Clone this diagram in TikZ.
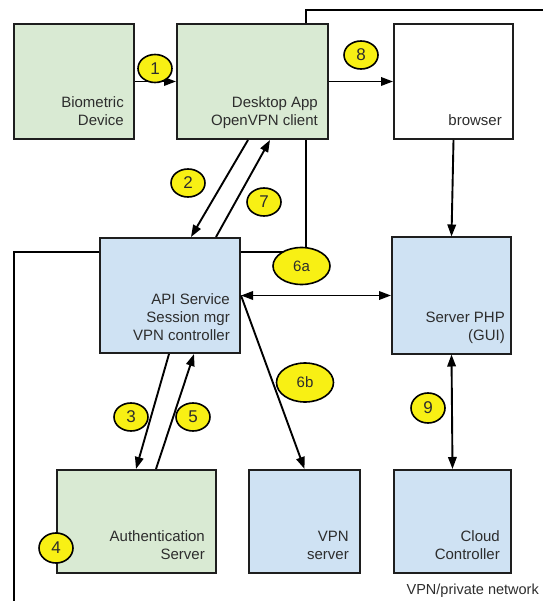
\documentclass[tikz,border=0pt]{standalone}
\usepackage{fontspec}
\setmainfont{Liberation Sans}
\usetikzlibrary{arrows.meta,shapes.geometric}
\pgfdeclarelayer{background}
\pgfsetlayers{background,main}
\definecolor{boxgreen}{RGB}{217,234,211}
\definecolor{boxblue}{RGB}{207,226,243}
\definecolor{stepyellow}{RGB}{248,240,20}
\definecolor{inkgray}{RGB}{45,45,45}
\definecolor{edgegray}{RGB}{30,30,30}

\begin{document}
\begin{tikzpicture}[x=1pt,y=-1pt,
  block/.style={draw=edgegray, line width=2pt, inner sep=0pt, rectangle},
  greenblock/.style={block, fill=boxgreen},
  blueblock/.style={block, fill=boxblue},
  whiteblock/.style={block, fill=white},
  caption/.style={anchor=base east, inner sep=0pt, text=inkgray,
    font=\fontsize{15}{18}\selectfont},
  stepmark/.style={ellipse, draw=black, line width=1.6pt, fill=stepyellow,
    inner sep=0pt, minimum width=34pt, minimum height=28pt,
    font=\fontsize{17}{17}\selectfont, text=inkgray},
  substep/.style={stepmark, minimum width=57pt, minimum height=37pt,
    font=\fontsize{15}{15}\selectfont},
  tip/.tip={Triangle[length=12pt,width=8.5pt]},
  flow/.style={line width=1.9pt, -tip},
  bothflow/.style={line width=1.9pt, tip-tip},
  wire/.style={line width=1.9pt}
]
\useasboundingbox (0,0) rectangle (543,601);

% components
\node[greenblock, minimum width=120pt, minimum height=115pt] (bio)   at (74,81.5)    {};
\node[greenblock, minimum width=151pt, minimum height=115pt] (desk)  at (252.5,81.5) {};
\node[whiteblock, minimum width=119pt, minimum height=115pt] (brow)  at (453.5,81.5) {};
\node[blueblock,  minimum width=140pt, minimum height=115pt] (api)   at (170,295.5)  {};
\node[blueblock,  minimum width=119pt, minimum height=116pt] (php)   at (451.5,295.5){};
\node[greenblock, minimum width=159pt, minimum height=103pt] (auth)  at (136.5,521.5){};
\node[blueblock,  minimum width=111pt, minimum height=103pt] (vpn)   at (304.5,521.5){};
\node[blueblock,  minimum width=117pt, minimum height=103pt] (cloud) at (452.5,521.5){};

% captions, set flush right near the bottom of each box
\node[caption] (biotxt)   at ([xshift=-11pt,yshift=14pt]bio.south east)
  {\begin{tabular}[b]{@{}r@{}}Biometric\\Device\end{tabular}};
\node[caption] (desktxt)  at ([xshift=-11pt,yshift=14pt]desk.south east)
  {\begin{tabular}[b]{@{}r@{}}Desktop App\\OpenVPN client\end{tabular}};
\node[caption] (browtxt)  at ([xshift=-12pt,yshift=14pt]brow.south east) {browser};
\node[caption] (apitxt)   at ([xshift=-11pt,yshift=14pt]api.south east)
  {\begin{tabular}[b]{@{}r@{}}API Service\\Session mgr\\VPN controller\end{tabular}};
\node[caption] (phptxt)   at ([xshift=-7pt,yshift=14pt]php.south east)
  {\begin{tabular}[b]{@{}r@{}}Server PHP\\(GUI)\end{tabular}};
\node[caption] (authtxt)  at ([xshift=-12pt,yshift=15pt]auth.south east)
  {\begin{tabular}[b]{@{}r@{}}Authentication\\Server\end{tabular}};
\node[caption] (vpntxt)   at ([xshift=-12pt,yshift=15pt]vpn.south east)
  {\begin{tabular}[b]{@{}r@{}}VPN\\server\end{tabular}};
\node[caption] (cloudtxt) at ([xshift=-12pt,yshift=15pt]cloud.south east)
  {\begin{tabular}[b]{@{}r@{}}Cloud\\Controller\end{tabular}};
\node[caption, font=\fontsize{14.5}{17}\selectfont] (netlbl) at (539,594) {VPN/private network};

% message flows
\draw[flow] (bio.east) -- (desk.west);
\draw[flow] (desk.east) -- (brow.west);
\draw[flow] ([xshift=72pt]desk.south west) -- ([xshift=92pt]api.north west);
\draw[flow] ([xshift=117pt]api.north west) -- ([xshift=94pt]desk.south west);
\draw[flow] (brow.south) -- (php.north);
\draw[bothflow] (api.east) -- (php.west);
\draw[flow] (api.east) -- (vpn.north);
\draw[flow] ([xshift=70pt]api.south west) -- ([xshift=80pt]auth.north west);
\draw[flow] ([xshift=100pt]auth.north west) -- ([xshift=95pt]api.south west);
\draw[bothflow] (php.south) -- (cloud.north);

% step markers
\node[stepmark] (s1) at (155,68.5) {1};
\node[stepmark] (s2) at (188,183) {2};
\node[stepmark] (s7) at (264,202) {7};
\node[stepmark] (s8) at (361,55)  {8};
\node[stepmark] (s3) at (131,417) {3};
\node[stepmark] (s5) at (193,417) {5};
\node[stepmark, minimum height=30pt] (s4) at (56,548)  {4};
\node[stepmark, minimum height=30pt] (s9) at (428,408) {9};
\node[substep] (e6a) at (301.5,266) {6a};
\node[substep, minimum height=39pt] (e6b) at (305,382.5) {6b};

% tunnel wiring, kept behind the boxes and markers
\coordinate (topright) at (543,10);
\coordinate (botleft)  at (14,601);
\coordinate (dtop) at ([xshift=130pt]desk.north west);
\coordinate (dbot) at ([xshift=130pt]desk.south west);
\coordinate (j6a)  at ([yshift=14pt]e6a.center);
\begin{pgfonlayer}{background}
  \draw[wire] (dtop) |- (topright);
  \draw[wire] (dbot) -- (dbot |- e6a.center);
  \draw[wire] (botleft) |- (j6a);
\end{pgfonlayer}
\end{tikzpicture}
\end{document}
